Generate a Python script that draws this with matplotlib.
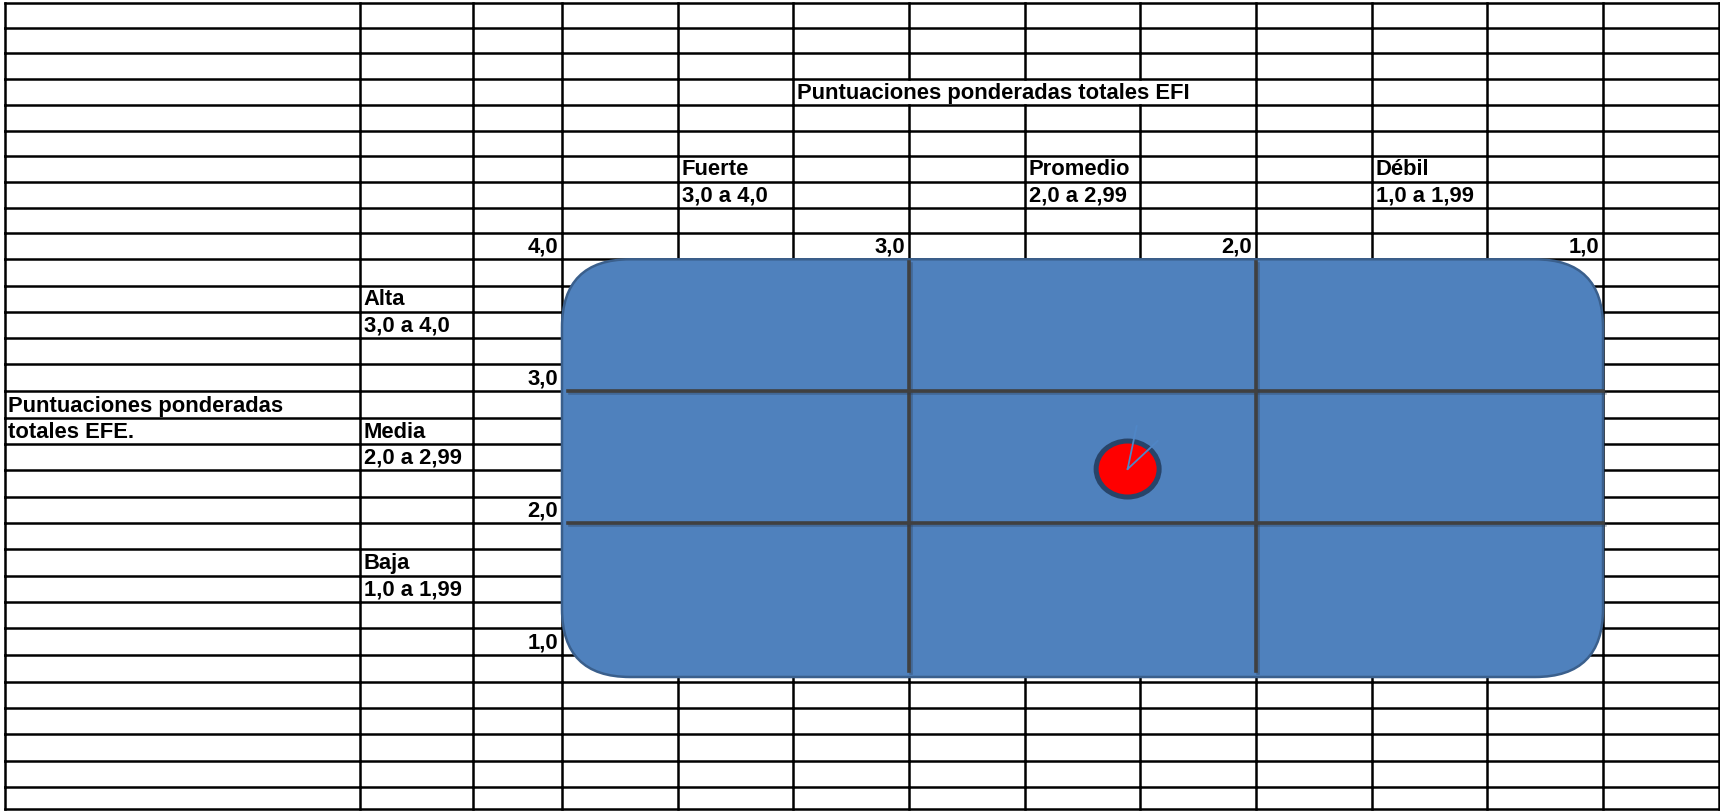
import matplotlib.pyplot as plt
import matplotlib.patheffects as pe
from matplotlib.patches import FancyBboxPatch, Ellipse

plt.rcParams['font.family'] = ['Liberation Sans', 'DejaVu Sans']

# weighted totals of the company
efi_total = 2.37
efe_total = 2.41

# score bounds on each axis and the level names
bounds = [4.0, 3.0, 2.0, 1.0]
bound_labels = ['4,0', '3,0', '2,0', '1,0']
efi_levels = ['Fuerte', 'Promedio', 'Débil']
efe_levels = ['Alta', 'Media', 'Baja']
level_ranges = ['3,0 a 4,0', '2,0 a 2,99', '1,0 a 1,99']
efi_title = 'Puntuaciones ponderadas totales EFI'
efe_title = ['Puntuaciones ponderadas', 'totales EFE.']

# sheet layout in pixels
W, H = 1720, 811
col_edges = [4.5, 359.5, 473, 562] + [562 + 115.67 * k for k in range(1, 10)] + [1718.5]
row_edges = [3.3, 28.3, 53.3, 79, 105, 130.7, 155.7, 181.7, 208.3, 233.3, 259.3,
             286, 311.7, 338.3, 364.3, 391, 418.3, 444, 470, 496.7, 522.7, 549.3,
             575.7, 601.7, 628.3, 655, 681.7, 708.3, 734.3, 761, 786.5, 809.3]
n_rows = len(row_edges) - 1
lw_grid = 1.8
fs = 15.8

fig = plt.figure(figsize=(W / 100, H / 100), dpi=100)
sheet = fig.add_axes([0, 0, 1, 1])
sheet.set_xlim(0, W)
sheet.set_ylim(H, 0)
sheet.axis('off')

cells = []  # (row, col, text, align)
cells.append((3, 5, efi_title, 'left'))
for i, b in enumerate(bound_labels):
    cells.append((9, 2 + 3 * i, b, 'right'))
    if i > 0:
        cells.append((9 + 5 * i, 2, b, 'right'))
for i in range(3):
    cells.append((6, 4 + 3 * i, efi_levels[i], 'left'))
    cells.append((7, 4 + 3 * i, level_ranges[i], 'left'))
    cells.append((11 + 5 * i, 1, efe_levels[i], 'left'))
    cells.append((12 + 5 * i, 1, level_ranges[i], 'left'))
cells.append((15, 0, efe_title[0], 'left'))
cells.append((16, 0, efe_title[1], 'left'))

# borders hidden by the overflowing title text
hidden = {(3, 6), (3, 7), (3, 8)}

for y in row_edges:
    sheet.plot([col_edges[0], col_edges[-1]], [y, y], color='black', lw=lw_grid,
               solid_capstyle='projecting')
for c, x in enumerate(col_edges):
    for r in range(n_rows):
        if (r, c) in hidden:
            continue
        sheet.plot([x, x], [row_edges[r], row_edges[r + 1]], color='black', lw=lw_grid,
                   solid_capstyle='projecting')

for r, c, txt, align in cells:
    base = row_edges[r + 1] - 6.4
    if align == 'left':
        sheet.text(col_edges[c] + 4, base, txt, ha='left', va='baseline',
                   fontsize=fs, fontweight='bold', color='black')
    else:
        sheet.text(col_edges[c + 1] - 4, base, txt, ha='right', va='baseline',
                   fontsize=fs, fontweight='bold', color='black')

# matrix panel: x = EFI (4 -> 1), y = EFE (1 -> 4)
x_px = (col_edges[3], col_edges[12])
y_px = (row_edges[10], row_edges[25])
ax = fig.add_axes([x_px[0] / W, 1 - y_px[1] / H, (x_px[1] - x_px[0]) / W,
                   (y_px[1] - y_px[0]) / H])
ax.set_xlim(4, 1)
ax.set_ylim(1, 4)
ax.axis('off')
ax.patch.set_alpha(0)

px_x = (x_px[1] - x_px[0]) / 3.0   # pixels per unit
px_y = (y_px[1] - y_px[0]) / 3.0

rect_top = 4.0
rect_bot = 1 - 22 / px_y
box = FancyBboxPatch((1.0, rect_bot), 3.0, rect_top - rect_bot,
                     boxstyle='round,pad=0,rounding_size=%f' % (68 / px_x),
                     mutation_aspect=px_x / px_y,
                     facecolor='#4F81BD', edgecolor='#3A5F8C', lw=1.8,
                     clip_on=False, zorder=1)
ax.add_patch(box)

shadow = [pe.SimpleLineShadow(offset=(1.2, -1.5), shadow_color='#2b3a4f', alpha=0.35),
          pe.Normal()]
for b in bounds[1:3]:
    ax.plot([b, b], [4 - 3 / px_y, 1 - 16 / px_y], color='#404040', lw=2.6,
            clip_on=False, zorder=2, path_effects=shadow)
    ax.plot([4 - 6 / px_x, 1.0], [b, b], color='#404040', lw=2.6, clip_on=False,
            zorder=2, path_effects=shadow)

dot = Ellipse((efi_total, efe_total), 63 / px_x, 56 / px_y, facecolor='#FF0000',
              edgecolor='#284469', lw=3.6, zorder=3)
ax.add_patch(dot)
# two short spokes leaving the dot towards the upper right (pixel offsets)
for dx, dy in [(9, 43), (30, 28)]:
    ax.plot([efi_total, efi_total - dx / px_x],
            [efe_total, efe_total + dy / px_y], color='#4F86C6', lw=1.3, zorder=4)

fig.savefig('out.png', dpi=100)
